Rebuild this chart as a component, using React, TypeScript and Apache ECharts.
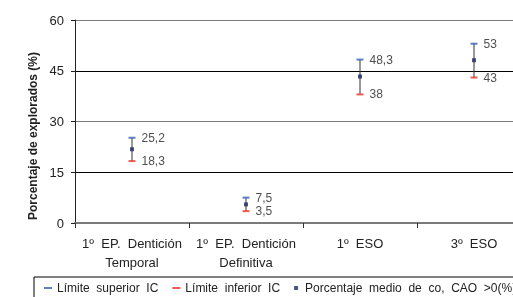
import React, { useEffect, useRef } from "react";
import * as echarts from "echarts";

const categories = ["1º  EP.  Dentición\nTemporal", "1º  EP.  Dentición\nDefinitiva", "1º  ESO", "3º  ESO"];
const upperIC = [25.2, 7.5, 48.3, 53];
const lowerIC = [18.3, 3.5, 38, 43];
const meanValues = [21.8, 5.5, 43.3, 48.1];
const yTicks = { min: 0, max: 60, interval: 15 };
const seriesNames = ["Límite  superior  IC", "Límite  inferior  IC", "Porcentaje  medio  de  co,  CAO  >0(%)"];

const FONT = "'Liberation Sans', Arial, sans-serif";
const fmt = (v: number) => String(v).replace(".", ",");

export default function App() {
  const ref = useRef<HTMLDivElement>(null);
  useEffect(() => {
    if (!ref.current) return;
    const chart = echarts.init(ref.current, null, { renderer: "svg" });
    chart.setOption({
      animation: false,
      textStyle: { fontFamily: FONT },
      grid: { left: 75, top: 20, right: 69, height: 203 },
      xAxis: {
        type: "category",
        data: categories,
        boundaryGap: true,
        axisLine: { lineStyle: { color: "#7a7a7a", width: 2 } },
        axisTick: { show: true, length: 5, lineStyle: { color: "#333" } },
        axisLabel: { interval: 0, fontSize: 13, color: "#222", lineHeight: 19, margin: 11, fontFamily: FONT },
        splitLine: { show: false },
      },
      yAxis: {
        type: "value",
        min: yTicks.min,
        max: yTicks.max,
        interval: yTicks.interval,
        axisLine: { show: true, lineStyle: { color: "#222", width: 1 } },
        axisTick: { show: true, length: 4, lineStyle: { color: "#222" } },
        axisLabel: { fontSize: 13, color: "#222", margin: 11, fontFamily: FONT },
        splitLine: {
          show: true,
          lineStyle: { color: ["#7a7a7a", "#000", "#7a7a7a", "#000", "#7a7a7a"], width: 1 },
        },
      },
      legend: {
        left: 34,
        top: 277,
        padding: [5, 10, 5, 10],
        borderColor: "#000",
        borderWidth: 1,
        itemGap: 14,
        itemWidth: 8,
        itemHeight: 4,
        textStyle: { fontSize: 12, color: "#222", fontFamily: FONT },
        data: [
          { name: seriesNames[0], icon: "path://M0,0h8v2h-8z" },
          { name: seriesNames[1], icon: "path://M0,0h8v2h-8z" },
          { name: seriesNames[2], icon: "path://M0,0h4v4h-4z" },
        ],
      },
      graphic: [
        {
          type: "text",
          x: 33,
          y: 136,
          rotation: Math.PI / 2,
          style: {
            text: "Porcentaje de explorados (%)",
            fontSize: 12,
            fontWeight: "bold",
            fill: "#222",
            fontFamily: FONT,
            align: "center",
            verticalAlign: "middle",
          },
        },
      ],
      series: [
        {
          type: "custom",
          name: "errorbar",
          z: 1,
          encode: { x: 0, y: [1, 2] },
          data: categories.map((_, i) => [i, lowerIC[i], upperIC[i]]),
          renderItem: (params: any, api: any) => {
            const x = api.value(0);
            const lo = api.coord([x, api.value(1)]);
            const hi = api.coord([x, api.value(2)]);
            return {
              type: "line",
              shape: { x1: lo[0], y1: lo[1], x2: hi[0], y2: hi[1] },
              style: { stroke: "#333", lineWidth: 1 },
            };
          },
        },
        {
          type: "scatter",
          name: seriesNames[0],
          z: 3,
          symbol: "rect",
          symbolSize: [7, 2],
          itemStyle: { color: "#3a5fb5" },
          data: upperIC,
          label: {
            show: true,
            position: "right",
            distance: 6,
            fontSize: 12,
            color: "#222",
            fontFamily: FONT,
            formatter: (p: any) => fmt(p.value),
          },
        },
        {
          type: "scatter",
          name: seriesNames[1],
          z: 3,
          symbol: "rect",
          symbolSize: [7, 2],
          itemStyle: { color: "#e8372a" },
          data: lowerIC,
          label: {
            show: true,
            position: "right",
            distance: 6,
            fontSize: 12,
            color: "#222",
            fontFamily: FONT,
            formatter: (p: any) => fmt(p.value),
          },
        },
        {
          type: "scatter",
          name: seriesNames[2],
          z: 4,
          symbol: "rect",
          symbolSize: [4, 4],
          itemStyle: { color: "#1c2a66" },
          data: meanValues,
        },
      ],
    });
    return () => chart.dispose();
  }, []);
  return <div ref={ref} style={{ position: "fixed", left: 0, top: 0, width: 600, height: 297 }} />;
}
